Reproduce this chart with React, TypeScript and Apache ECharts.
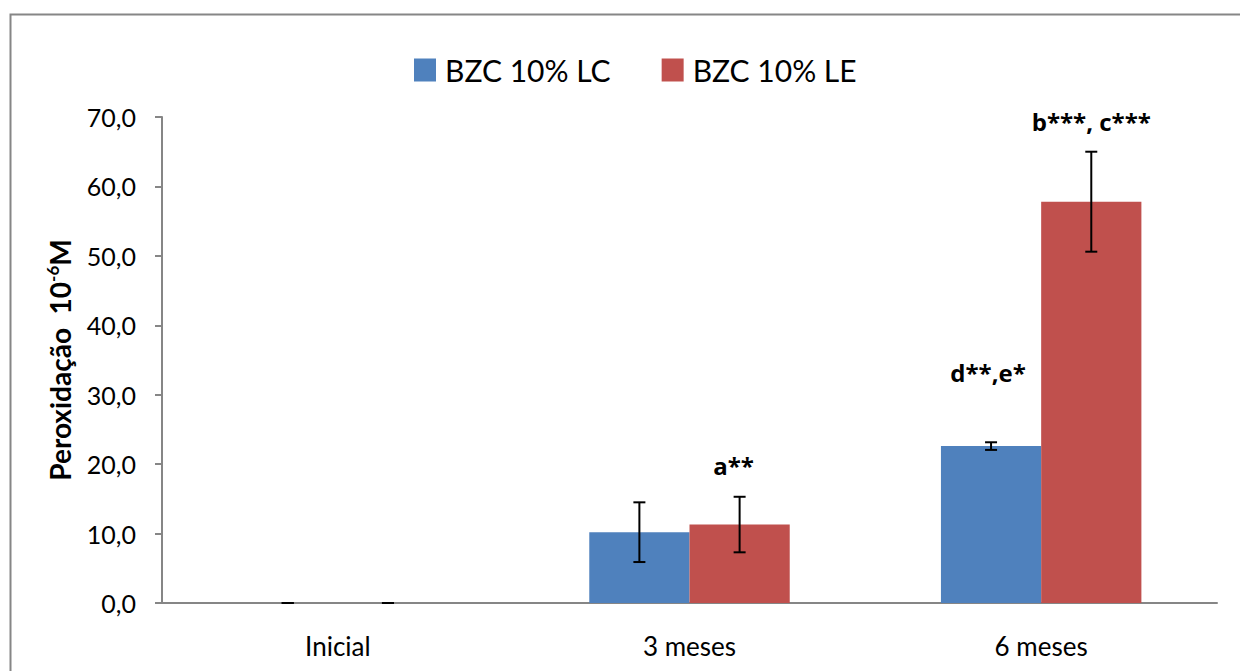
import React, { useEffect, useRef } from "react";
import * as echarts from "echarts";

const categories = ["Inicial", "3 meses", "6 meses"];
const seriesNames = ["BZC 10% LC", "BZC 10% LE"];
const lcMeans = [0, 10.2, 22.6];
const lcErr = [0, 4.3, 0.55];
const leMeans = [0, 11.3, 57.8];
const leErr = [0, 4.0, 7.2];
const lcAnnot = ["", "", "d**,e*"];
const leAnnot = ["", "a**", "b***, c***"];
const yTicks = [0, 10, 20, 30, 40, 50, 60, 70];

const FONT = "Lato, 'Open Sans', sans-serif";
const LABEL_FONT = "'Open Sans', Lato, sans-serif";
const BLUE = "#4F81BD";
const RED = "#C0504D";
const AXIS = "#868686";

function errorSeries(means: number[], errs: number[], side: number) {
  return {
    type: "custom",
    silent: true,
    z: 5,
    data: means.map((m, i) => [i, m - errs[i], m + errs[i]]),
    renderItem: (params: any, api: any) => {
      const i = api.value(0);
      const lo = api.coord([i, api.value(1)]);
      const hi = api.coord([i, api.value(2)]);
      const band = api.size([1, 0])[0];
      const x = lo[0] + side * band * 0.1425;
      const cap = 6;
      const style = { stroke: "#000", lineWidth: 2 };
      return {
        type: "group",
        children: [
          { type: "line", shape: { x1: x, y1: lo[1], x2: x, y2: hi[1] }, style },
          { type: "line", shape: { x1: x - cap, y1: lo[1], x2: x + cap, y2: lo[1] }, style },
          { type: "line", shape: { x1: x - cap, y1: hi[1], x2: x + cap, y2: hi[1] }, style },
        ],
      };
    },
  };
}

function barData(means: number[], annots: string[], distances: number[], offsets: number[]) {
  return means.map((v, i) => {
    const a = annots[i];
    if (!a) return v;
    return {
      value: v,
      label: {
        show: true,
        position: "top",
        distance: distances[i],
        offset: [offsets[i], 0],
        formatter: a,
        fontFamily: LABEL_FONT,
        fontWeight: "bold",
        fontSize: 24,
        color: "#000",
      },
    };
  });
}

export default function App() {
  const ref = useRef<HTMLDivElement>(null);
  useEffect(() => {
    document.body.style.margin = "0";
    document.body.style.overflow = "hidden";
    const chart = echarts.init(ref.current!, null, { renderer: "svg" });
    chart.setOption({
      animation: false,
      backgroundColor: "#fff",
      textStyle: { fontFamily: FONT },
      graphic: [
        {
          type: "rect",
          left: 8,
          top: 12,
          shape: { x: 0, y: 0, width: 1300, height: 720 },
          style: { fill: "none", stroke: AXIS, lineWidth: 2 },
          silent: true,
        },
      ],
      legend: {
        left: 409,
        top: 50,
        itemWidth: 22,
        itemHeight: 23,
        itemGap: 51,
        icon: "rect",
        textStyle: { fontFamily: FONT, fontSize: 30, color: "#000", padding: [0, 0, 0, 4] },
        data: seriesNames,
      },
      grid: { left: 162, right: 23, top: 117, bottom: 68 },
      xAxis: {
        type: "category",
        data: categories,
        axisLine: { lineStyle: { color: AXIS, width: 2 } },
        axisTick: { length: 9, lineStyle: { color: AXIS, width: 2 } },
        axisLabel: { fontFamily: FONT, fontSize: 26, color: "#000", margin: 30 },
      },
      yAxis: {
        type: "value",
        min: yTicks[0],
        max: yTicks[yTicks.length - 1],
        interval: 10,
        splitLine: { show: false },
        axisLine: { show: true, lineStyle: { color: AXIS, width: 2 } },
        axisTick: { show: true, length: 7, lineStyle: { color: AXIS, width: 2 } },
        axisLabel: {
          fontFamily: FONT,
          fontSize: 25,
          color: "#000",
          margin: 26,
          formatter: (v: number) => v.toFixed(1).replace(".", ","),
        },
        name: "{b|Peroxidação  10}{sup|-6}{b|M}",
        nameLocation: "middle",
        nameRotate: 90,
        nameGap: 86,
        nameTextStyle: {
          rich: {
            b: { fontFamily: FONT, fontWeight: "bold", fontSize: 28, color: "#000", lineHeight: 32 },
            sup: { fontFamily: FONT, fontWeight: "bold", fontSize: 17, color: "#000", verticalAlign: "top", lineHeight: 32 },
          },
        },
      },
      series: [
        {
          name: seriesNames[0],
          type: "bar",
          barWidth: "28.5%",
          barGap: "0%",
          itemStyle: { color: BLUE },
          data: barData(lcMeans, lcAnnot, [0, 0, 62], [0, 0, -3]),
        },
        {
          name: seriesNames[1],
          type: "bar",
          barWidth: "28.5%",
          barGap: "0%",
          itemStyle: { color: RED },
          data: barData(leMeans, leAnnot, [0, 47, 68], [0, -6, 0]),
        },
        errorSeries(lcMeans, lcErr, -1),
        errorSeries(leMeans, leErr, 1),
      ],
    });
    return () => chart.dispose();
  }, []);
  return <div ref={ref} style={{ width: 1240, height: 671 }} />;
}
